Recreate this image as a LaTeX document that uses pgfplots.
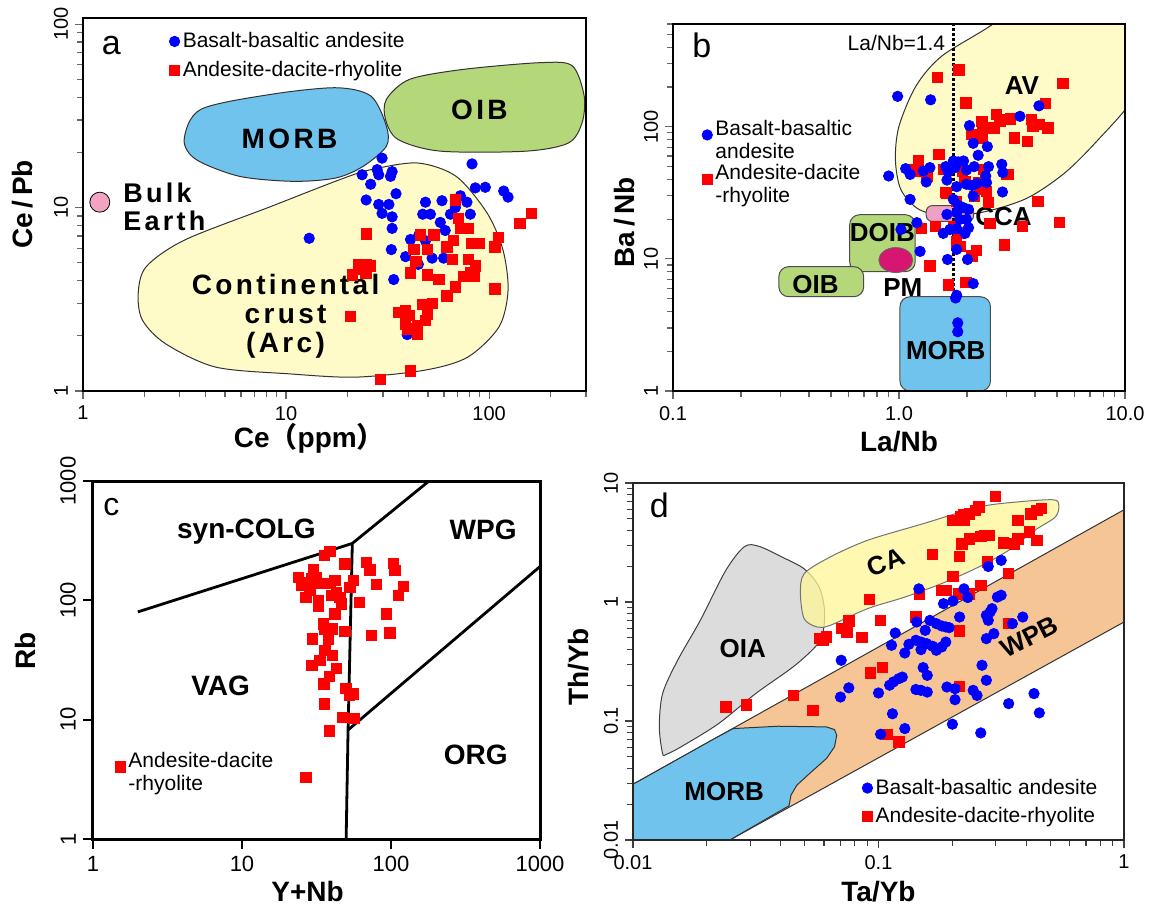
\documentclass[border=0pt]{standalone}
\usepackage{fontspec}
\setmainfont{Liberation Sans}
\newfontfamily\cjk{Noto Sans CJK SC}
\newfontfamily\spaced[LetterSpace=12]{Liberation Sans}
\usepackage{pgfplots}
\pgfplotsset{compat=1.18}
\renewcommand{\arraystretch}{0.95}

\definecolor{morb}{RGB}{112,195,236}
\definecolor{oibg}{RGB}{180,215,122}
\definecolor{crust}{RGB}{255,251,200}
\definecolor{bulk}{RGB}{241,163,193}
\definecolor{ccap}{RGB}{240,160,196}
\definecolor{pm}{RGB}{214,22,112}
\definecolor{wpb}{RGB}{246,197,150}
\definecolor{oia}{RGB}{220,220,220}
\definecolor{cay}{RGB}{255,246,150}

\pgfplotsset{every axis/.append style={scale only axis, axis on top, anchor=south west,
    tick align=outside, tick pos=left, major tick length=4pt, minor tick length=3pt,
    tick style={black!60, line width=0.6pt},
    tick label style={font=\fontsize{10}{12}\selectfont},
    yticklabel style={rotate=90, anchor=south},
    every axis label/.append style={font=\bfseries\fontsize{14}{16}\selectfont},
    every axis x label/.append style={anchor=center},
    every axis y label/.append style={anchor=center},
    legend cell align=left}}
\pgfplotsset{bluepts/.style={only marks, mark=*, mark size=2.6pt, color=blue, mark options={fill=blue, draw=blue}}}
\pgfplotsset{redpts/.style={only marks, mark=square*, mark size=2.6pt, color=red, mark options={fill=red, draw=red}}}
\tikzset{lab/.style={font=\bfseries\fontsize{13}{15}\selectfont}}
\tikzset{lgd/.style={draw=none, fill=none, font=\fontsize{10.5}{12}\selectfont, inner sep=1pt, row sep=1pt, nodes={inner sep=1.5pt}}}

\begin{document}
\begin{tikzpicture}
\useasboundingbox (0,0) rectangle (576pt,-454.5pt);

% a
\begin{axis}[xmode=log, ymode=log, at={(41.5pt,-195.5pt)}, width=251.5pt, height=186.5pt,
  xmin=1, xmax=300, ymin=1, ymax=108,
  xtick={1,10,100}, xticklabels={1,10,100}, ytick={1,10,100}, yticklabels={1,10,100},
  minor xtick={2,3,4,5,6,7,8,9,20,30,40,50,60,70,80,90,200,300},
  minor ytick={2,3,4,5,6,7,8,9,20,30,40,50,60,70,80,90},
  axis line style={line width=1pt},
  xlabel={Ce{\cjk （}ppm{\cjk ）}}, ylabel={Ce\,/\,Pb},
  xlabel style={at={(axis description cs:0.45,-0.126)}},
  ylabel style={at={(axis description cs:-0.12,0.5)}},
  legend image code/.code={\draw[#1] plot coordinates {(0cm,0cm)};},
  legend style={lgd, row sep=2.5pt, at={(axis description cs:0.167,0.976)}, anchor=north west}]
\addplot[forget plot, fill=crust, draw=black!80, line width=0.5pt, smooth cycle] coordinates {
 (1.87,3.41) (2.05,4.77) (3.18,6.67) (8.35,10.1) (18.4,14.2) (26.2,16.1) (44.4,17.5) (68.8,14.8)
 (97.8,9.33) (117,5.88) (124,3.55) (112,2.24) (78.5,1.53) (48.4,1.30) (22,1.19) (10.4,1.24)
 (4.5,1.35) (2.55,1.81) (1.96,2.44)};
\addplot[forget plot, fill=morb, draw=black!80, line width=0.5pt, smooth cycle] coordinates {
 (3.15,23.5) (3.8,34.3) (8.4,41.4) (17.6,45) (26.2,40.5) (31.2,27.8) (31.2,21.6) (24,16.8)
 (17.6,14.5) (10.9,13.9) (5.9,14.8) (3.6,18.3)};
\addplot[forget plot, fill=oibg, draw=black!80, line width=0.5pt, smooth cycle] coordinates {
 (31.2,38.9) (40.6,50) (75,56.7) (181,61.7) (257,59.2) (294,40.5) (287,29) (246,22.5)
 (152,20.3) (57.7,20.3) (35.6,23.5) (30.9,30.2)};
\addplot[forget plot, only marks, mark=*, mark size=5pt, mark options={fill=bulk, draw=black, line width=0.4pt}] coordinates {(1.21,10.7)};
\addplot[bluepts] coordinates {
 (29.7,18.6) (23.7,15.1) (26.1,13.4) (28.1,16.1) (28.6,15.1) (33.3,15.7) (32.7,14.8) (24.8,11.0)
 (28.6,10.4) (32.1,10.4) (34.8,11.9) (29.7,9.3) (33.3,8.9) (33.3,7.7) (13.0,6.8) (33.0,5.9)
 (38.8,5.4) (41.0,6.7) (33.9,4.05) (39.5,2.03) (48.6,10.7) (47.1,9.2) (51.4,9.2) (58.6,10.9)
 (82.4,17.3) (85.5,12.8) (95.8,12.9) (118,12.3) (124,11.4) (72.2,11.6) (77.8,10.7) (80.8,9.2)
 (64.5,9.2) (68.2,10.0) (57.5,8.3) (60.8,7.5) (52.4,5.3) (59.7,5.3) (45.1,7.1) (48.6,6.6) (44.8,4.9)};
\addlegendentry{Basalt-basaltic andesite}
\addplot[redpts] coordinates {
 (24.8,7.2) (22.8,4.9) (24.7,4.9) (26.1,4.8) (23.7,4.6) (21.2,4.3) (24.7,4.4) (20.8,2.55)
 (29.2,1.16) (41.0,1.29) (45.9,7.1) (53.4,7.1) (42.6,5.9) (49.5,5.9) (43.6,5.1) (41.0,4.4)
 (49.5,4.3) (56.5,4.05) (68.2,11.0) (70.8,8.7) (72.1,7.7) (79.3,7.7) (66.9,6.6) (62.1,6.1)
 (82.4,6.4) (89,6.4) (65.8,5.2) (79.3,5.2) (85.5,4.8) (80.8,4.4) (75,4.2) (84,4.2) (68.2,3.7)
 (62.1,3.3) (107,3.6) (111,6.9) (107,6.1) (142,8.2) (161,9.3) (38.8,2.74) (40.3,2.58)
 (38.8,2.32) (39.5,2.18) (46.8,2.97) (52.4,3.01) (49.5,2.63) (48.6,2.42) (44.2,2.28)
 (44.2,2.05) (35.9,2.69)};
\addlegendentry{Andesite-dacite-rhyolite}
\node[font=\fontsize{17}{20}\selectfont] at (axis cs:1.38,76) {a};
\node[font=\spaced\bfseries\fontsize{14}{16}\selectfont] at (axis cs:10.4,23.7) {MORB};
\node[font=\spaced\bfseries\fontsize{14}{16}\selectfont] at (axis cs:89.6,33.9) {OIB};
\node[font=\spaced\bfseries\fontsize{13.5}{14}\selectfont, align=left, anchor=west] at (axis cs:1.46,10.1) {Bulk\\Earth};
\node[font=\spaced\bfseries\fontsize{14}{14.5}\selectfont, align=center] at (axis cs:9.95,2.56) {Continental\\crust\\(Arc)};
\end{axis}

% b
\begin{axis}[xmode=log, ymode=log, at={(336.5pt,-195.5pt)}, width=226pt, height=183.5pt,
  xmin=0.1, xmax=10, ymin=1, ymax=600,
  xtick={0.1,1,10}, xticklabels={0.1,1.0,10.0}, ytick={1,10,100}, yticklabels={1,10,100},
  minor xtick={0.2,0.3,0.4,0.5,0.6,0.7,0.8,0.9,2,3,4,5,6,7,8,9},
  minor ytick={2,3,4,5,6,7,8,9,20,30,40,50,60,70,80,90,200,300,400,500,600},
  axis line style={line width=0.8pt},
  xlabel={La/Nb}, ylabel={Ba\,/\,Nb},
  xlabel style={at={(axis description cs:0.5,-0.139)}},
  ylabel style={at={(axis description cs:-0.108,0.46)}},
  legend image code/.code={\draw[#1] plot coordinates {(0cm,0cm)};},
  legend style={lgd, row sep=3.5pt, at={(axis description cs:0.059,0.755)}, anchor=north west}]
\addplot[forget plot, fill=crust, draw=black!80, line width=0.5pt, smooth cycle] coordinates {
 (2.64,609) (1.55,344) (1.19,204) (1.0,101) (0.964,56.5) (1.02,33.4) (1.23,23.6) (1.67,21.2)
 (2.44,22.9) (3.70,28.9) (5.41,44.7) (7.62,80) (11.1,171) (14,450) (10,1200) (4.5,1300)};
\addplot[forget plot, fill=ccap, draw=black!70, line width=0.5pt, rounded corners=3pt] coordinates {
 (1.32,19.2) (2.14,19.2) (2.14,25.3) (1.32,25.3)} -- cycle;
\addplot[forget plot, fill=oibg, draw=black!70, line width=0.5pt, rounded corners=5pt] coordinates {
 (0.605,8.0) (1.18,8.0) (1.18,21.6) (0.605,21.6)} -- cycle;
\addplot[forget plot, fill=oibg, draw=black!70, line width=0.5pt, rounded corners=5pt] coordinates {
 (0.294,5.17) (0.698,5.17) (0.698,8.74) (0.294,8.74)} -- cycle;
\addplot[forget plot, fill=morb, draw=black!70, line width=0.5pt, rounded corners=5pt] coordinates {
 (1.01,1.0) (2.54,1.0) (2.54,5.17) (1.01,5.17)} -- cycle;
\addplot[forget plot, only marks, mark=*, mark size=6.25pt, mark options={xscale=1.36, fill=pm, draw=black!60, line width=0.4pt}] coordinates {(0.968,9.8)};
\addplot[forget plot, redpts] coordinates {
 (1.48,236) (1.84,269) (5.31,213) (1.98,152) (4.45,150) (2.33,110) (2.35,98) (2.10,87.5)
 (2.33,82.5) (2.69,124) (2.79,110) (2.64,98) (2.97,114) (3.12,115) (3.25,82.5) (3.71,77.8)
 (3.85,114) (4.18,104) (4.56,98) (3.92,101) (1.50,61.6) (1.22,55.5) (1.61,47.4) (1.91,46)
 (1.18,46) (3.04,43.5) (1.62,31.5) (1.96,38.7) (2.26,38) (2.44,32.5) (2.49,26.8) (2.16,29.7)
 (1.80,27.3) (4.12,27.3) (5.12,18.9) (3.52,17.6) (2.52,18.5) (1.26,17.1) (1.45,17.6)
 (1.84,15.7) (1.87,12.4) (1.80,13.6) (2.20,11.6) (2.10,10.5) (2.93,12.8) (1.37,8.85)
 (1.65,6.35) (1.98,6.65) (1.74,17.6) (1.16,47.7) (1.33,42.4) (1.58,47.7) (2.36,47.7)
 (2.99,43.6) (2.28,33.6) (1.61,31.7) (1.80,12.8)};
\addplot[bluepts] coordinates {
 (0.986,170) (1.38,160) (4.16,144) (3.43,120) (2.05,102) (2.13,75) (2.46,70.8) (2.24,60.9)
 (1.74,55.1) (1.83,54.2) (1.93,55.1) (1.61,49.9) (1.07,48.2) (1.12,43.6) (1.28,46.3)
 (1.37,49.1) (1.65,45.5) (1.77,49.1) (1.99,47.1) (2.15,49.9) (2.49,49.9) (2.85,52) (2.88,45)
 (2.42,42.4) (1.32,38.2) (1.63,39.5) (1.80,35.2) (1.99,36.7) (2.10,36.0) (2.21,37.3)
 (2.44,37.8) (2.87,32.1) (2.13,29.9) (1.12,28.2) (1.74,28.2) (1.83,25.4) (1.93,24.4)
 (2.03,23.7) (1.80,22.4) (1.63,21.7) (1.86,19.9) (1.99,19.9) (1.20,18.8) (1.02,16.7)
 (2.03,17.2) (1.80,16.9) (1.57,15.6) (1.68,16.7) (1.96,15.6) (1.80,11.8) (1.24,11.4)
 (1.64,9.9) (2.01,9.9) (2.13,6.5) (1.78,5.06) (0.90,42.4) (1.82,3.28) (1.82,2.81) (1.80,5.3)};
\addlegendentry{\begin{tabular}{@{}l@{}}Basalt-basaltic\\andesite\end{tabular}}
\addlegendimage{redpts}
\addlegendentry{\begin{tabular}{@{}l@{}}Andesite-dacite\\-rhyolite\end{tabular}}
\addplot[forget plot, black, densely dotted, line width=1.5pt] coordinates {(1.74,5.2) (1.74,600)};
\node[font=\fontsize{17}{20}\selectfont] at (axis cs:0.134,410) {b};
\node[font=\fontsize{10.5}{12}\selectfont, anchor=east] at (axis cs:1.72,434) {La/Nb=1.4};
\node[lab] at (axis cs:3.5,206) {AV};
\node[lab] at (axis cs:2.9,21) {CCA};
\node[lab] at (axis cs:0.845,15.7) {DOIB};
\node[lab] at (axis cs:1.04,6.1) {PM};
\node[lab] at (axis cs:0.427,6.35) {OIB};
\node[lab] at (axis cs:1.61,2.01) {MORB};
\end{axis}

% c
\begin{axis}[xmode=log, ymode=log, at={(46.5pt,-419.5pt)}, width=223.5pt, height=179pt,
  xmin=1, xmax=1000, ymin=1, ymax=1000,
  xtick={1,10,100,1000}, xticklabels={1,10,100,1000},
  ytick={1,10,100,1000}, yticklabels={1,10,100,1000},
  xminorticks=false, yminorticks=false, major tick length=5pt,
  tick style={black, line width=1pt},
  tick label style={font=\fontsize{11}{13}\selectfont},
  axis line style={line width=1.5pt},
  xlabel={Y+Nb}, ylabel={Rb},
  xlabel style={at={(axis description cs:0.48,-0.148)}},
  ylabel style={at={(axis description cs:-0.15,0.525)}},
  legend image code/.code={\draw[#1] plot coordinates {(0cm,0cm)};},
  legend style={lgd, at={(axis description cs:0.044,0.201)}, anchor=west}]
\addplot[forget plot, black, line width=1.4pt] coordinates {(2,80) (55,300) (180,1000)};
\addplot[forget plot, black, line width=1.4pt] coordinates {(55,300) (51.5,8.2) (50,1)};
\addplot[forget plot, black, line width=1.4pt] coordinates {(51.5,8.2) (1000,192)};
\addplot[redpts] coordinates {
 (38.9,258) (35.6,238) (49.1,202) (68.5,209) (72.1,180) (104,205) (106,178) (30.1,180)
 (23.9,155) (25.1,133) (27.2,142) (29.4,152) (31.7,156) (32.5,138) (28.6,121) (26.9,106)
 (32.5,99.8) (32.5,89) (38.9,139) (42.0,147) (40.0,110) (43.2,117) (45.4,106) (46.6,93.7)
 (42.0,77.2) (55.7,147) (53,129) (61.1,96.6) (80,136) (121,131) (112,110) (93.3,77.2)
 (35.1,63.7) (36,57.8) (40,57.8) (49.1,55) (74,50.9) (98.2,53.2) (29.8,47.7) (37.9,47.7)
 (36,38.1) (40.6,34.6) (33.3,31.4) (29.4,28.5) (43.2,26.8) (38.5,23.1) (35.5,20)
 (49.8,18.2) (55.7,16.5) (52.4,16) (35.6,13.6) (47.3,10.4) (56.3,10.2) (38.5,8.04) (26.8,3.28)};
\addlegendentry{\begin{tabular}{@{}l@{}}Andesite-dacite\\-rhyolite\end{tabular}}
\node[font=\fontsize{16}{18}\selectfont] at (axis cs:1.33,604) {c};
\node[font=\bfseries\fontsize{14}{16}\selectfont] at (axis cs:10.7,373) {syn-COLG};
\node[font=\bfseries\fontsize{14}{16}\selectfont] at (axis cs:415,390) {WPG};
\node[font=\bfseries\fontsize{14}{16}\selectfont] at (axis cs:7.18,19.1) {VAG};
\node[font=\bfseries\fontsize{14}{16}\selectfont] at (axis cs:370,5.05) {ORG};
\end{axis}

% d
\begin{axis}[xmode=log, ymode=log, at={(316.5pt,-420pt)}, width=245.5pt, height=178.5pt,
  xmin=0.01, xmax=1, ymin=0.01, ymax=10,
  xtick={0.01,0.1,1}, xticklabels={0.01,0.1,1},
  ytick={0.01,0.1,1,10}, yticklabels={0.01,0.1,1,10},
  minor xtick={0.02,0.03,0.04,0.05,0.06,0.07,0.08,0.09,0.2,0.3,0.4,0.5,0.6,0.7,0.8,0.9},
  minor ytick={0.02,0.03,0.04,0.05,0.06,0.07,0.08,0.09,0.2,0.3,0.4,0.5,0.6,0.7,0.8,0.9,2,3,4,5,6,7,8,9},
  tick style={black!75, line width=0.6pt},
  axis line style={line width=1.2pt, black!85},
  xlabel={Ta/Yb}, ylabel={Th/Yb},
  xlabel style={at={(axis description cs:0.5,-0.146)}},
  ylabel style={at={(axis description cs:-0.11,0.485)}},
  legend image code/.code={\draw[#1] plot coordinates {(0cm,0cm)};},
  legend style={lgd, at={(axis description cs:0.462,0.106)}, anchor=west, row sep=2pt}]
\addplot[forget plot, fill=wpb, draw=black!80, line width=0.5pt] coordinates {
 (0.01,0.0294) (1,5.96) (1,0.679) (0.0248,0.01) (0.01,0.01)} -- cycle;
\addplot[forget plot, fill=morb, draw=black!80, line width=0.5pt] coordinates {
 (0.01,0.0294) (0.0215,0.0712) (0.0256,0.0864) (0.039,0.0904) (0.0614,0.0892) (0.0662,0.0847)
 (0.0676,0.0759) (0.0662,0.0607) (0.0614,0.0484) (0.0533,0.0374) (0.0465,0.0289) (0.044,0.0238)
 (0.0432,0.0194) (0.0248,0.01) (0.01,0.01)} -- cycle;
\addplot[forget plot, fill=oia, draw=black!75, line width=0.5pt, smooth cycle] coordinates {
 (0.0132,0.0533) (0.0128,0.0892) (0.0132,0.170) (0.0152,0.324) (0.0188,0.701) (0.0239,1.85)
 (0.0285,2.93) (0.0327,2.93) (0.0404,2.39) (0.0498,1.90) (0.0573,1.34) (0.0603,0.851)
 (0.0593,0.542) (0.0552,0.419) (0.0449,0.285) (0.0316,0.170) (0.0223,0.095) (0.0157,0.0607)
 (0.0137,0.0526)};
\addplot[forget plot, fill=cay, fill opacity=0.75, draw=black!55, line width=0.5pt, smooth cycle] coordinates {
 (0.0481,1.17) (0.0498,1.73) (0.0636,2.39) (0.0902,3.30) (0.152,4.55) (0.256,6.28) (0.364,6.92)
 (0.515,7.23) (0.543,6.48) (0.525,5.18) (0.433,4.0) (0.339,2.72) (0.256,1.97) (0.181,1.43)
 (0.128,1.10) (0.0902,0.879) (0.0636,0.637) (0.0562,0.617) (0.0498,0.724)};
\addplot[forget plot, redpts] coordinates {
 (0.300,7.71) (0.256,6.28) (0.248,5.88) (0.235,5.52) (0.223,5.45) (0.215,5.18) (0.223,4.85)
 (0.201,4.85) (0.370,4.85) (0.418,5.52) (0.441,5.88) (0.460,6.1) (0.411,3.87) (0.370,3.40)
 (0.357,3.09) (0.441,3.30) (0.322,3.13) (0.270,3.63) (0.261,3.56) (0.283,3.63) (0.235,3.40)
 (0.219,3.09) (0.166,2.50) (0.214,2.42) (0.277,2.17) (0.201,1.64) (0.188,1.25) (0.181,1.25)
 (0.212,1.17) (0.235,1.17) (0.261,1.38) (0.339,1.73) (0.147,1.17) (0.0916,1.05) (0.102,0.701)
 (0.142,0.748) (0.0757,0.692) (0.0705,0.597) (0.0743,0.560) (0.0855,0.502) (0.0573,0.492)
 (0.0614,0.508) (0.0593,0.477) (0.214,0.571) (0.339,0.658) (0.1035,0.281) (0.0927,0.253)
 (0.0449,0.164) (0.0540,0.123) (0.0239,0.131) (0.029,0.137) (0.214,0.196) (0.109,0.0774)
 (0.121,0.0668)};
\addplot[bluepts] coordinates {
 (0.316,2.24) (0.280,1.99) (0.146,1.29) (0.223,1.29) (0.231,1.09) (0.184,0.968) (0.201,1.02)
 (0.305,1.10) (0.316,1.14) (0.214,0.748) (0.143,0.679) (0.117,0.549) (0.155,0.578) (0.162,0.701)
 (0.172,0.658) (0.181,0.629) (0.188,0.617) (0.194,0.609) (0.275,0.773) (0.280,0.701) (0.285,0.824)
 (0.290,0.879) (0.387,0.748) (0.351,0.658) (0.113,0.433) (0.133,0.441) (0.142,0.477) (0.149,0.461)
 (0.157,0.447) (0.166,0.425) (0.172,0.393) (0.181,0.419) (0.188,0.461) (0.149,0.398) (0.128,0.373)
 (0.152,0.281) (0.158,0.242) (0.264,0.294) (0.275,0.492) (0.295,0.542) (0.0705,0.324) (0.0757,0.190)
 (0.070,0.159) (0.1,0.172) (0.111,0.200) (0.115,0.213) (0.121,0.227) (0.125,0.234) (0.142,0.184)
 (0.149,0.181) (0.158,0.175) (0.190,0.193) (0.205,0.187) (0.243,0.181) (0.252,0.164) (0.275,0.220)
 (0.205,0.151) (0.114,0.115) (0.128,0.0864) (0.102,0.0774) (0.2,0.0940) (0.261,0.0794)
 (0.339,0.140) (0.430,0.170) (0.452,0.117)};
\addlegendentry{Basalt-basaltic andesite}
\addlegendimage{redpts}
\addlegendentry{Andesite-dacite-rhyolite}
\node[font=\fontsize{17}{20}\selectfont] at (axis cs:0.0128,6.5) {d};
\node[lab, rotate=22] at (axis cs:0.107,2.17) {CA};
\node[lab] at (axis cs:0.028,0.406) {OIA};
\node[lab, rotate=27] at (axis cs:0.411,0.508) {WPB};
\node[lab] at (axis cs:0.0235,0.0254) {MORB};
\end{axis}
\end{tikzpicture}
\end{document}
